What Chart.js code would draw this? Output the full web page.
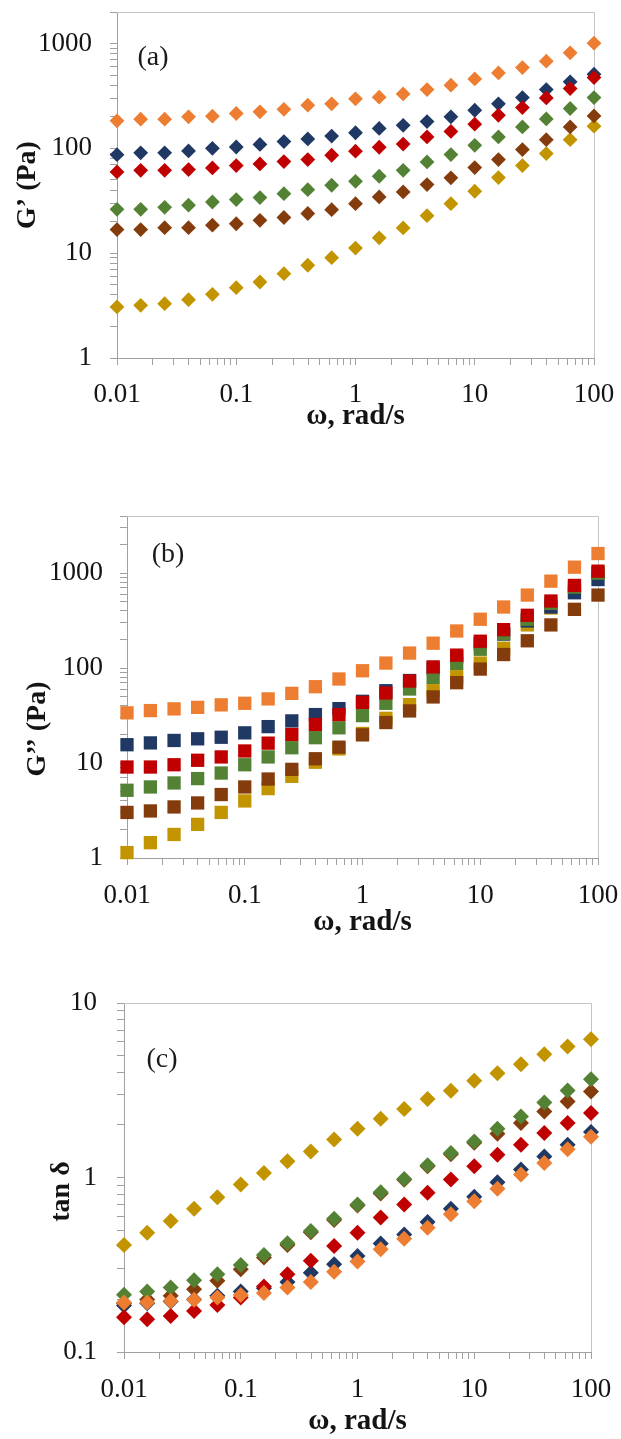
<!DOCTYPE html>
<html>
<head>
<meta charset="utf-8">
<script src="https://cdn.jsdelivr.net/npm/chart.js@4.4.1/dist/chart.umd.min.js"></script>
<style>
  body { margin: 0; background: #fff; width: 621px; height: 1439px; position: relative; overflow: hidden; }
  .panel { position: absolute; left: 0; width: 621px; }
  .tag { position: absolute; font-family: "Liberation Serif", serif; font-size: 28px; color: #1a1a1a; transform: translate(-50%, -50%); white-space: nowrap; }
</style>
</head>
<body>
<div class="panel" style="top:0;height:440px"><canvas id="chartA" width="621" height="440"></canvas></div>
<div class="panel" style="top:490px;height:460px"><canvas id="chartB" width="621" height="460"></canvas></div>
<div class="panel" style="top:960px;height:479px"><canvas id="chartC" width="621" height="479"></canvas></div>
<div class="tag" style="left:153px;top:56px">(a)</div>
<div class="tag" style="left:168px;top:553px">(b)</div>
<div class="tag" style="left:162px;top:1058px">(c)</div>

<script>
// angular frequency, rad/s (5 points per decade)
const omega = [0.01, 0.0158, 0.0251, 0.0398, 0.0631, 0.1, 0.158, 0.251, 0.398, 0.631, 1, 1.58, 2.51, 3.98, 6.31, 10, 15.8, 25.1, 39.8, 63.1, 100];

const xTickLabels = ['0.01', '0.1', '1', '10', '100'];
const gTickLabels = ['1', '10', '100', '1000'];
const tanTickLabels = ['0.1', '1', '10'];

// (a) G', Pa
const gpOrange = [183, 190, 190, 200, 203, 215, 223, 236, 258, 266, 297, 308, 331, 364, 401, 460, 525, 590, 679, 815, 1008];
const gpBlue = [87, 90.6, 90.6, 94.6, 100, 103, 109, 116, 123, 131, 141, 155, 166, 180, 200, 231, 266, 305, 364, 431, 510];
const gpRed = [59.6, 61.8, 61.8, 62.8, 65.1, 68.5, 71.1, 74.8, 78.2, 86, 94, 102.5, 110, 128.5, 145, 170, 207, 245, 303, 372, 474];
const gpGreen = [26.2, 26.2, 27.4, 28.7, 30.8, 32.5, 33.9, 37, 40.4, 44.5, 48.5, 54.2, 61.8, 74.3, 87.3, 107, 128.5, 160, 191, 240, 305];
const gpBrown = [16.8, 16.8, 17.5, 17.5, 18.5, 19.1, 20.6, 21.9, 23.9, 26, 29.7, 34.4, 38.4, 45.1, 52.3, 65.6, 78.2, 97.4, 121, 160, 204];
const gpGold = [3.07, 3.18, 3.3, 3.6, 4.05, 4.69, 5.31, 6.38, 7.67, 9.07, 11.2, 14, 17.4, 22.8, 29.7, 39, 52.6, 68.5, 89.2, 121, 163];

// (b) G'', Pa
const gppOrange = [33.8, 35.7, 37.2, 38.6, 41, 42.6, 47.4, 54.2, 63.7, 76.8, 93.8, 113, 144, 183, 246, 327, 440, 588, 824, 1156, 1610];
const gppBlue = [15.6, 16.3, 17.3, 18, 18.7, 20.8, 24.2, 27.8, 32.4, 37.4, 44.7, 57.8, 74, 100, 132, 182, 228, 314, 440, 622, 857];
const gppRed = [9.08, 9.08, 9.6, 10.7, 11.6, 13.4, 16.2, 20, 25.5, 32.4, 43.6, 54.7, 73.1, 103, 137, 192, 254, 360, 509, 743, 1050];
const gppGreen = [5.17, 5.6, 6.17, 6.86, 7.85, 9.6, 11.6, 14.5, 18.5, 23.5, 31.6, 42.6, 60.3, 79.8, 112, 158, 231, 327, 481, 713, 1000];
const gppBrown = [3.02, 3.13, 3.45, 3.8, 4.66, 5.6, 6.79, 8.58, 11.1, 14.7, 19.8, 26.7, 35.4, 49.7, 70.2, 97.7, 139, 194, 285, 416, 588];
const gppGold = [1.14, 1.45, 1.77, 2.26, 3.02, 3.99, 5.38, 7.25, 10.2, 14.1, 20.5, 29.6, 41.2, 57.8, 81.1, 113, 162, 285, 430, 650, 1000];

// (c) tan delta
const tanOrange = [0.192, 0.192, 0.196, 0.199, 0.205, 0.212, 0.218, 0.234, 0.252, 0.288, 0.33, 0.388, 0.446, 0.515, 0.615, 0.732, 0.861, 1.04, 1.21, 1.45, 1.71];
const tanBlue = [0.185, 0.19, 0.195, 0.2, 0.21, 0.222, 0.232, 0.252, 0.285, 0.318, 0.355, 0.418, 0.472, 0.556, 0.662, 0.776, 0.94, 1.11, 1.32, 1.54, 1.82];
const tanRed = [0.158, 0.154, 0.161, 0.172, 0.186, 0.205, 0.237, 0.279, 0.333, 0.405, 0.483, 0.589, 0.701, 0.817, 0.974, 1.16, 1.35, 1.54, 1.8, 2.05, 2.34];
const tanGreen = [0.213, 0.222, 0.234, 0.258, 0.279, 0.315, 0.36, 0.42, 0.494, 0.581, 0.701, 0.824, 0.98, 1.175, 1.38, 1.61, 1.9, 2.24, 2.69, 3.15, 3.66];
const tanBrown = [0.19, 0.2, 0.21, 0.229, 0.256, 0.298, 0.348, 0.41, 0.485, 0.57, 0.69, 0.81, 0.97, 1.16, 1.36, 1.58, 1.78, 2.05, 2.39, 2.73, 3.11];
const tanGold = [0.41, 0.483, 0.563, 0.662, 0.771, 0.912, 1.06, 1.24, 1.41, 1.65, 1.9, 2.17, 2.47, 2.82, 3.14, 3.58, 3.96, 4.46, 5.09, 5.63, 6.2];

const colors = {
  orange: '#ED7D31',
  blue: '#1F3864',
  red: '#C00000',
  green: '#548235',
  brown: '#843C0C',
  gold: '#C29400'
};

const FONT = '"Liberation Serif", "Times New Roman", serif';
const TEXT = '#141414';
const AXIS = '#a0a0a0';
const NBSP = '\u00a0';

// 1..9 x 10^n between min and max (Excel style minor ticks)
function logTicks(min, max) {
  const out = [];
  for (let e = Math.floor(Math.log10(min)); e <= Math.ceil(Math.log10(max)); e++) {
    for (let m = 1; m <= 9; m++) {
      const v = Number((m * Math.pow(10, e)).toPrecision(6));
      if (v >= min * 0.9999 && v <= max * 1.0001) out.push({ value: v });
    }
  }
  return out;
}

function labelFor(v, labels) {
  const hit = labels.find(s => Math.abs(Number(s) / v - 1) < 1e-6);
  return hit || '';
}

// top and right edges of the plot box
const plotBox = {
  id: 'plotBox',
  beforeDatasetsDraw(chart) {
    const { ctx, chartArea: a } = chart;
    ctx.save();
    ctx.strokeStyle = '#c4c4c4';
    ctx.lineWidth = 1;
    ctx.beginPath();
    ctx.moveTo(a.left, Math.round(a.top) + 0.5);
    ctx.lineTo(Math.round(a.right) + 0.5, Math.round(a.top) + 0.5);
    ctx.lineTo(Math.round(a.right) + 0.5, a.bottom);
    ctx.stroke();
    ctx.restore();
  }
};

function makeSet(vals, color, style, radius) {
  return {
    data: omega.map((w, i) => ({ x: w, y: vals[i] })),
    backgroundColor: color,
    borderColor: color,
    borderWidth: 0,
    pointStyle: style,
    pointRadius: radius,
    pointHoverRadius: radius,
    showLine: false,
    clip: false
  };
}

function panel(id, p) {
  const sets = p.series.map(s => makeSet(s[0], s[1], p.style, p.radius));
  new Chart(document.getElementById(id), {
    type: 'scatter',
    data: { datasets: sets },
    plugins: [plotBox],
    options: {
      responsive: false,
      animation: false,
      events: [],
      layout: { padding: { left: 0, top: p.top, right: 621 - p.right, bottom: 0 } },
      plugins: { legend: { display: false }, tooltip: { enabled: false } },
      scales: {
        x: {
          type: 'logarithmic',
          min: 0.01,
          max: 100,
          afterBuildTicks: s => { s.ticks = logTicks(s.min, s.max); },
          afterFit: s => { s.height = p.xHeight; s.paddingLeft = 0; s.paddingRight = 0; },
          grid: { drawOnChartArea: false, tickLength: 7, color: AXIS },
          border: { color: AXIS, width: 1 },
          ticks: {
            autoSkip: false, maxRotation: 0, padding: p.xPad, color: TEXT,
            font: { family: FONT, size: 27 },
            callback: v => labelFor(v, xTickLabels)
          },
          title: {
            display: true, text: 'ω, rad/s', color: TEXT,
            font: { family: FONT, size: 29, weight: 'bold' },
            padding: { top: 0, bottom: p.xTitlePad }
          }
        },
        y: {
          type: 'logarithmic',
          min: p.yMin,
          max: p.yMax,
          afterBuildTicks: s => { s.ticks = logTicks(s.min, s.max); },
          afterFit: s => { s.width = p.left; s.paddingTop = 0; s.paddingBottom = 0; },
          grid: { drawOnChartArea: false, tickLength: 7, color: AXIS },
          border: { color: AXIS, width: 1 },
          ticks: {
            autoSkip: false, padding: p.yPad, color: TEXT,
            font: { family: FONT, size: 27 },
            callback: v => labelFor(v, p.yLabels)
          },
          title: {
            display: true, text: p.yTitle, color: TEXT,
            font: { family: FONT, size: 28, weight: 'bold' },
            padding: { top: p.yTitlePad, bottom: 0 }
          }
        }
      }
    }
  });
}

// first series is drawn on top
panel('chartA', {
  series: [[gpOrange, colors.orange], [gpRed, colors.red], [gpGreen, colors.green], [gpBrown, colors.brown], [gpBlue, colors.blue], [gpGold, colors.gold]],
  style: 'rectRot', radius: 7.4,
  top: 12, left: 117, right: 594, xHeight: 82,
  yMin: 1, yMax: 2000, yLabels: gTickLabels, yTitle: 'G’ (Pa)',
  xPad: 14, yPad: 18, xTitlePad: 6, yTitlePad: 11
});

// title sits below the middle of the axis in the original, trailing spaces push it down
panel('chartB', {
  series: [[gppOrange, colors.orange], [gppRed, colors.red], [gppGreen, colors.green], [gppBrown, colors.brown], [gppBlue, colors.blue], [gppGold, colors.gold]],
  style: 'rect', radius: 9.4,
  top: 26, left: 127, right: 598, xHeight: 92,
  yMin: 1, yMax: 4000, yLabels: gTickLabels, yTitle: 'G’’ (Pa)' + NBSP.repeat(12),
  xPad: 15, yPad: 17, xTitlePad: 10, yTitlePad: 21
});

panel('chartC', {
  series: [[tanOrange, colors.orange], [tanRed, colors.red], [tanGreen, colors.green], [tanBrown, colors.brown], [tanBlue, colors.blue], [tanGold, colors.gold]],
  style: 'rectRot', radius: 8,
  top: 43, left: 124, right: 591, xHeight: 87,
  yMin: 0.1, yMax: 10, yLabels: tanTickLabels, yTitle: 'tan δ' + NBSP.repeat(4),
  xPad: 15, yPad: 20, xTitlePad: 0, yTitlePad: 45
});
</script>
</body>
</html>
